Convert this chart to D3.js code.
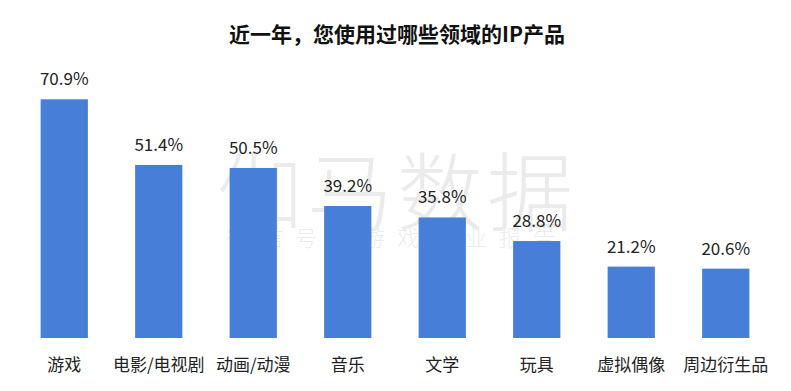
<!DOCTYPE html>
<html><head><meta charset="utf-8">
<script src="https://cdn.jsdelivr.net/npm/d3@7/dist/d3.min.js"></script>
<style>html,body{margin:0;padding:0;background:#fff;}svg{display:block;}</style>
</head><body>
<svg id="chart" width="791" height="391"></svg>
<script>
const title = "近一年，您使用过哪些领域的IP产品";
const categories = ["游戏", "电影/电视剧", "动画/动漫", "音乐", "文学", "玩具", "虚拟偶像", "周边衍生品"];
const values = [70.9, 51.4, 50.5, 39.2, 35.8, 28.8, 21.2, 20.6];

const W = 791, H = 391;
const svg = d3.select("#chart");
const font = "'Noto Sans CJK SC', 'Noto Sans', sans-serif";
const baseline = 338;

const x = d3.scaleBand().domain(categories).range([17, 773]).paddingInner(0.5).paddingOuter(0.25);
const y = d3.scaleLinear().domain([0, 70.9]).range([baseline, 99.3]);

// watermark (behind labels)
const wm = svg.append("g").attr("opacity", 0.16);
wm.append("text").attr("x", 397).attr("y", 225).attr("text-anchor", "middle")
  .attr("font-family", font).attr("font-size", 86).attr("font-weight", 300)
  .attr("fill", "#888").attr("letter-spacing", 4)
  .text("伽马数据");
wm.append("text").attr("x", 397).attr("y", 246).attr("text-anchor", "middle")
  .attr("font-family", font).attr("font-size", 22).attr("font-weight", 300)
  .attr("fill", "#888").attr("letter-spacing", 12)
  .text("微信号：游戏产业报告");

svg.append("text").attr("x", 397).attr("y", 42).attr("text-anchor", "middle")
  .attr("font-family", font).attr("font-weight", "bold").attr("font-size", 21).attr("fill", "#111")
  .text(title);

svg.selectAll("rect.bar").data(values).enter().append("rect").attr("class", "bar")
  .attr("x", (d, i) => x(categories[i])).attr("width", x.bandwidth())
  .attr("y", d => y(d)).attr("height", d => baseline - y(d))
  .attr("fill", "#417bd7").attr("fill-opacity", 0.97);

svg.selectAll("text.val").data(values).enter().append("text").attr("class", "val")
  .attr("x", (d, i) => x(categories[i]) + x.bandwidth() / 2)
  .attr("y", d => y(d) - 14).attr("text-anchor", "middle")
  .attr("font-family", font).attr("font-size", 17).attr("fill", "#222")
  .text(d => d.toFixed(1) + "%");

const xAxis = d3.axisBottom(x).tickSize(0).tickPadding(21);
const g = svg.append("g").attr("transform", `translate(0,${baseline})`).call(xAxis);
g.select(".domain").remove();
g.selectAll("text").attr("font-family", font).attr("font-size", 17).attr("fill", "#222");
</script>
</body></html>
